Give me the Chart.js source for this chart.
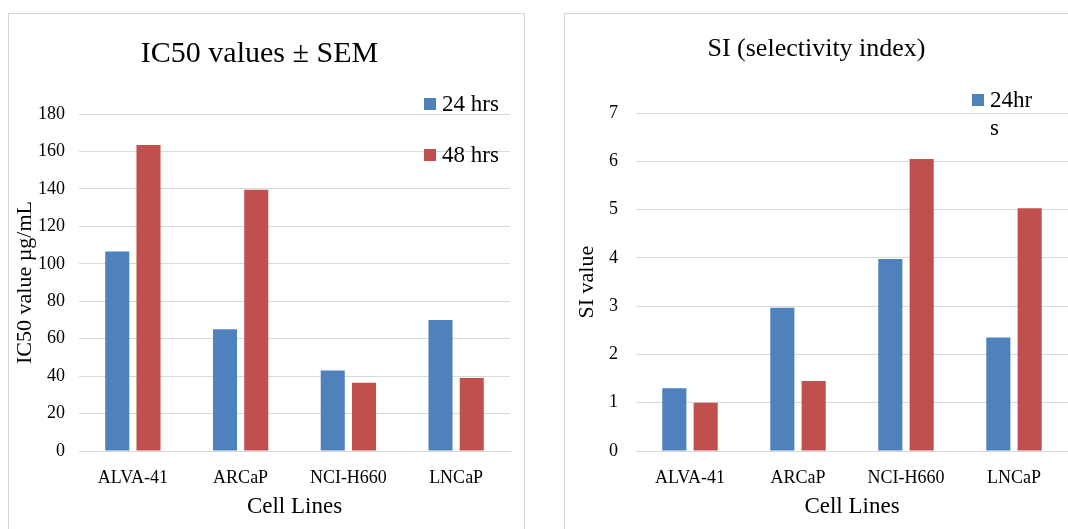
<!DOCTYPE html>
<html>
<head>
<meta charset="utf-8">
<script src="https://cdn.jsdelivr.net/npm/chart.js@4.4.0/dist/chart.umd.min.js"></script>
<style>
  html, body { margin: 0; padding: 0; background: #fff; overflow: hidden; width: 1068px; height: 529px; }
  .box { position: absolute; top: 13px; width: 515px; height: 530px; border: 1px solid #d4d4d4; background: #fff; }
  #box1 { left: 8px; }
  #box2 { left: 564px; }
</style>
</head>
<body>
<div class="box" id="box1"><canvas id="ic50Chart" width="515" height="514"></canvas></div>
<div class="box" id="box2"><canvas id="siChart" width="515" height="514"></canvas></div>
<script>
const cellLines = ['ALVA-41', 'ARCaP', 'NCI-H660', 'LNCaP'];
const ic50_24 = [106.5, 65, 43, 70];
const ic50_48 = [163.5, 139.5, 36.5, 39];
const si_24 = [1.3, 2.97, 3.98, 2.35];
const si_48 = [1.0, 1.45, 6.05, 5.03];
const seriesNames = ['24 hrs', '48 hrs'];

const BLUE = '#4f81bd';
const RED = '#c0504d';
const GRID = '#d9d9d9';
const SERIF = '"Liberation Serif", "Times New Roman", serif';

// legend drawn by hand, it sits inside the plot area like in excel
const cornerLegend = {
  id: 'cornerLegend',
  afterDraw(chart, args, opts) {
    const ctx = chart.ctx;
    ctx.save();
    ctx.font = '23px ' + SERIF;
    ctx.fillStyle = '#000';
    ctx.textBaseline = 'alphabetic';
    opts.items.forEach((it, i) => {
      const ds = chart.data.datasets[i];
      ctx.fillStyle = ds.backgroundColor;
      ctx.fillRect(it.x, it.y, 12, 12);
      ctx.fillStyle = '#000';
      it.lines.forEach((ln, j) => {
        ctx.fillText(ln, it.x + 18, it.y + 13 + j * 28);
      });
    });
    ctx.restore();
  }
};

function makeChart(id, d24, d48, opt) {
  const ctx = document.getElementById(id).getContext('2d');
  return new Chart(ctx, {
    type: 'bar',
    data: {
      labels: cellLines,
      datasets: [
        { label: seriesNames[0], backgroundColor: BLUE, data: d24 },
        { label: seriesNames[1], backgroundColor: RED, data: d48 }
      ]
    },
    plugins: [cornerLegend],
    options: {
      responsive: false,
      devicePixelRatio: 1,
      animation: false,
      categoryPercentage: 0.58,
      barPercentage: 0.77,
      layout: { padding: { left: 0, right: opt.right, top: 0, bottom: 0 } },
      plugins: {
        legend: { display: false },
        tooltip: { enabled: false },
        title: {
          display: true,
          text: opt.title,
          color: '#000',
          font: { family: SERIF, size: opt.titleSize, weight: 'normal' },
          padding: { top: opt.titleTop, bottom: opt.titleBottom }
        },
        cornerLegend: { items: opt.legend }
      },
      scales: {
        x: {
          grid: { display: false, drawTicks: false },
          border: { display: true, color: GRID, width: 1 },
          ticks: { color: '#000', padding: 16, font: { family: SERIF, size: 18 } },
          title: {
            display: true, text: 'Cell Lines', color: '#000',
            font: { family: SERIF, size: 23 }, padding: { top: 0, bottom: 7 }
          },
          afterFit(s) { s.height = 77; }
        },
        y: {
          min: 0, max: opt.max,
          grid: { color: GRID, lineWidth: 1, drawTicks: false },
          border: { display: false },
          ticks: { stepSize: opt.step, color: '#000', padding: opt.tickPad, font: { family: SERIF, size: 18 } },
          title: {
            display: true, text: opt.yTitle, color: '#000',
            font: { family: SERIF, size: 22 }, padding: { top: opt.yTitlePad, bottom: 0 }
          },
          afterFit(s) { s.width = opt.yWidth; }
        }
      }
    }
  });
}

makeChart('ic50Chart', ic50_24, ic50_48, {
  title: 'IC50 values ± SEM', titleSize: 30, titleTop: 22, titleBottom: 42,
  max: 180, step: 20, yTitle: 'IC50 value µg/mL', yTitlePad: 3, yWidth: 70, tickPad: 14, right: 14,
  legend: [
    { x: 415, y: 84, lines: ['24 hrs'] },
    { x: 415, y: 135, lines: ['48 hrs'] }
  ]
});

makeChart('siChart', si_24, si_48, {
  title: 'SI (selectivity index)', titleSize: 26, titleTop: 20, titleBottom: 48,
  max: 7, step: 1, yTitle: 'SI value', yTitlePad: 9, yWidth: 71, tickPad: 18, right: 12,
  legend: [
    { x: 407, y: 80, lines: ['24hr', 's'] }
  ]
});
</script>
</body>
</html>
